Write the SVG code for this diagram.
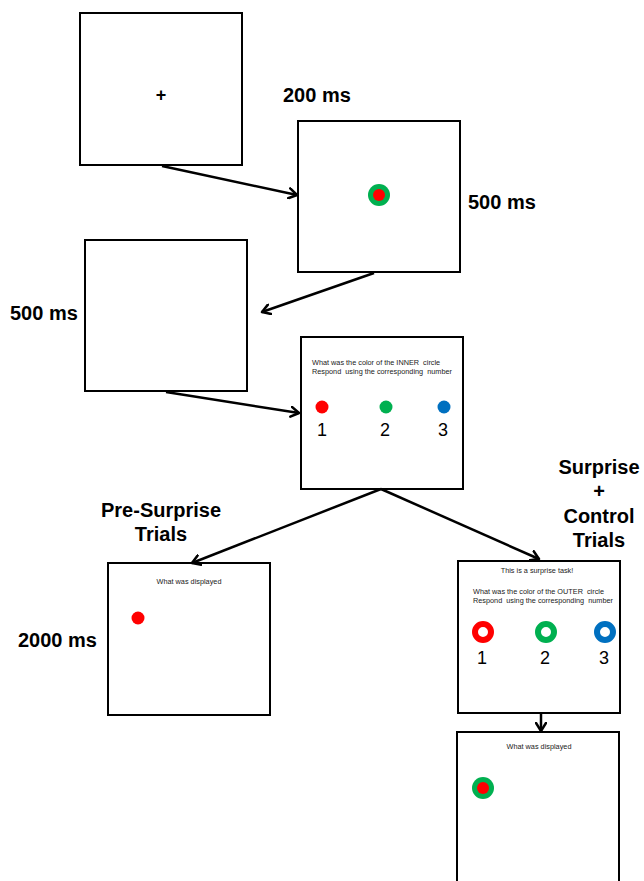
<svg xmlns="http://www.w3.org/2000/svg" width="644" height="881" viewBox="0 0 644 881">
<style>
.box{fill:#fff;stroke:#000;stroke-width:2}
.lbl{font-family:"Liberation Sans",Arial,sans-serif;font-weight:bold;font-size:20px;fill:#000}
.sm{font-family:"Liberation Sans",Arial,sans-serif;font-size:7.3px;fill:#222;white-space:pre}
.num{font-family:"Liberation Sans",Arial,sans-serif;font-size:18px;fill:#000;text-anchor:middle}
.conn{fill:none;stroke:#000;stroke-width:2.5}
.ah{fill:none;stroke:#000;stroke-width:2.5;stroke-linecap:round;stroke-linejoin:round}
</style>
<defs>
<marker id="arr" markerWidth="12" markerHeight="12" refX="9" refY="6" orient="auto" markerUnits="userSpaceOnUse">
<path d="M1,1 L9,6 L1,11" class="ah"/>
</marker>
</defs>
<g id="labels">
<text class="lbl" x="283" y="102">200 ms</text>
<text class="lbl" x="468" y="209">500 ms</text>
<text class="lbl" x="10" y="320">500 ms</text>
<text class="lbl" x="18" y="647">2000 ms</text>
<text class="lbl" x="161" y="517" text-anchor="middle">Pre-Surprise</text>
<text class="lbl" x="161" y="541" text-anchor="middle">Trials</text>
<text class="lbl" x="599" y="474" text-anchor="middle">Surprise</text>
<text class="lbl" x="599" y="498" text-anchor="middle">+</text>
<text class="lbl" x="599" y="523" text-anchor="middle">Control</text>
<text class="lbl" x="599" y="547" text-anchor="middle">Trials</text>
</g>
<g id="fixation">
<rect class="box" x="80" y="13" width="162" height="152"/>
<text x="161" y="101" text-anchor="middle" font-family="Liberation Sans,Arial,sans-serif" font-weight="bold" font-size="18">+</text>
</g>
<g id="stimulus">
<rect class="box" x="298" y="121" width="162" height="151"/>
<circle cx="379" cy="195" r="11" fill="#00b050"/>
<circle cx="379" cy="195" r="6" fill="#ff0000"/>
</g>
<g id="blank">
<rect class="box" x="85" y="240" width="162" height="151"/>
</g>
<g id="inner-question">
<rect class="box" x="301" y="337" width="162" height="152"/>
<text class="sm" x="312" y="365">What was the color of the INNER  circle</text>
<text class="sm" x="312" y="374">Respond  using the corresponding  number</text>
<circle cx="322" cy="407" r="6.5" fill="#ff0000"/>
<circle cx="386" cy="407" r="6.5" fill="#00b050"/>
<circle cx="444" cy="407" r="6.5" fill="#0070c0"/>
<text class="num" x="322" y="436">1</text>
<text class="num" x="385" y="436">2</text>
<text class="num" x="443" y="436">3</text>
</g>
<g id="pre-surprise-display">
<rect class="box" x="108" y="563" width="162" height="152"/>
<text class="sm" x="189" y="584" text-anchor="middle">What was displayed</text>
<circle cx="138" cy="618" r="6.5" fill="#ff0000"/>
</g>
<g id="surprise-question">
<rect class="box" x="458" y="561" width="162" height="152"/>
<text class="sm" x="537" y="573" text-anchor="middle">This is a surprise task!</text>
<text class="sm" x="473" y="594">What was the color of the OUTER  circle</text>
<text class="sm" x="473" y="603">Respond  using the corresponding  number</text>
<circle cx="483" cy="632" r="8" fill="none" stroke="#ff0000" stroke-width="6"/>
<circle cx="546" cy="632" r="8" fill="none" stroke="#00b050" stroke-width="6"/>
<circle cx="605" cy="632" r="8" fill="none" stroke="#0070c0" stroke-width="6"/>
<text class="num" x="482" y="664">1</text>
<text class="num" x="545" y="664">2</text>
<text class="num" x="604" y="664">3</text>
</g>
<g id="surprise-display">
<rect class="box" x="457" y="732" width="162" height="160"/>
<text class="sm" x="539" y="749" text-anchor="middle">What was displayed</text>
<circle cx="483" cy="788" r="11" fill="#00b050"/>
<circle cx="483" cy="788" r="6" fill="#ff0000"/>
</g>
<g id="connectors">
<line class="conn" x1="162" y1="166" x2="297" y2="195" marker-end="url(#arr)"/>
<line class="conn" x1="374" y1="273" x2="262" y2="312" marker-end="url(#arr)"/>
<line class="conn" x1="166" y1="392" x2="299" y2="413" marker-end="url(#arr)"/>
<line class="conn" x1="381" y1="489" x2="192" y2="563" marker-end="url(#arr)"/>
<line class="conn" x1="381" y1="489" x2="539" y2="559" marker-end="url(#arr)"/>
<line class="conn" x1="541" y1="714" x2="541" y2="731" marker-end="url(#arr)"/>
</g>
</svg>
